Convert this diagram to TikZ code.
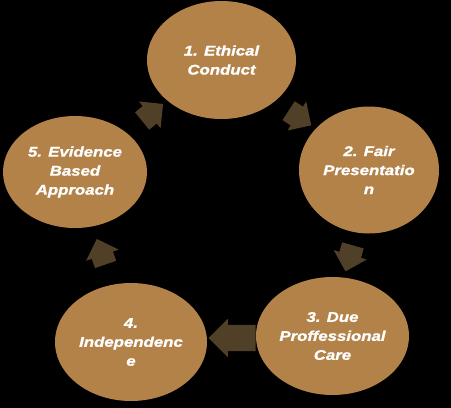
\documentclass[tikz,border=0pt]{standalone}
\usepackage{fontspec}
\newfontfamily\cyclefont{Liberation Sans}[FakeStretch=1.2,FakeBold=1.2]
\usetikzlibrary{shapes.geometric,shapes.arrows,calc}
\definecolor{stagebrown}{RGB}{179,130,73}
\definecolor{turnbrown}{RGB}{80,64,40}

\begin{document}
\begin{tikzpicture}[x=1pt,y=-1pt,
  stage/.style={ellipse,fill=stagebrown,inner sep=0pt,text=white,align=center,
    font=\cyclefont\bfseries\itshape\fontsize{14}{19}\selectfont},
  turn/.style={single arrow,fill=turnbrown,inner xsep=0pt,inner ysep=11pt,
    minimum height=27pt,single arrow head extend=6pt}]
  \useasboundingbox (0,0) rectangle (451,408);
  \fill[black] (0,0) rectangle (451,408);
  % the five stages
  \node[stage,minimum width=149pt,minimum height=118pt] (e1) at (221.5,60) {1. Ethical\\Conduct};
  \node[stage,minimum width=140pt,minimum height=127pt] (e2) at (369,170) {2. Fair\\Presentatio\\n};
  \node[stage,minimum width=153pt,minimum height=118pt] (e3) at (332.5,336) {3. Due\\Proffessional\\Care};
  \node[stage,minimum width=152pt,minimum height=118pt] (e4) at (131,342) {4.\\Independenc\\e};
  \node[stage,minimum width=144pt,minimum height=112pt] (e5) at (75,172) {5. Evidence\\Based\\Approach};
  % arrows between them
  \node[turn,rotate=-33] (a12) at ($(e1)!0.5!(e2)$) {};
  \node[turn,rotate=-106] (a23) at ($(e2)!0.5!(e3)$) {};
  \node[turn,rotate=180,inner ysep=13pt,minimum height=47pt] (a34) at ($(e3)!0.5!(e4)+(7,-1)$) {};
  \node[turn,rotate=109] (a45) at ($(e4)!0.5!(e5)$) {};
  \node[turn,rotate=39] (a51) at ($(e5)!0.5!(e1)$) {};
\end{tikzpicture}
\end{document}
